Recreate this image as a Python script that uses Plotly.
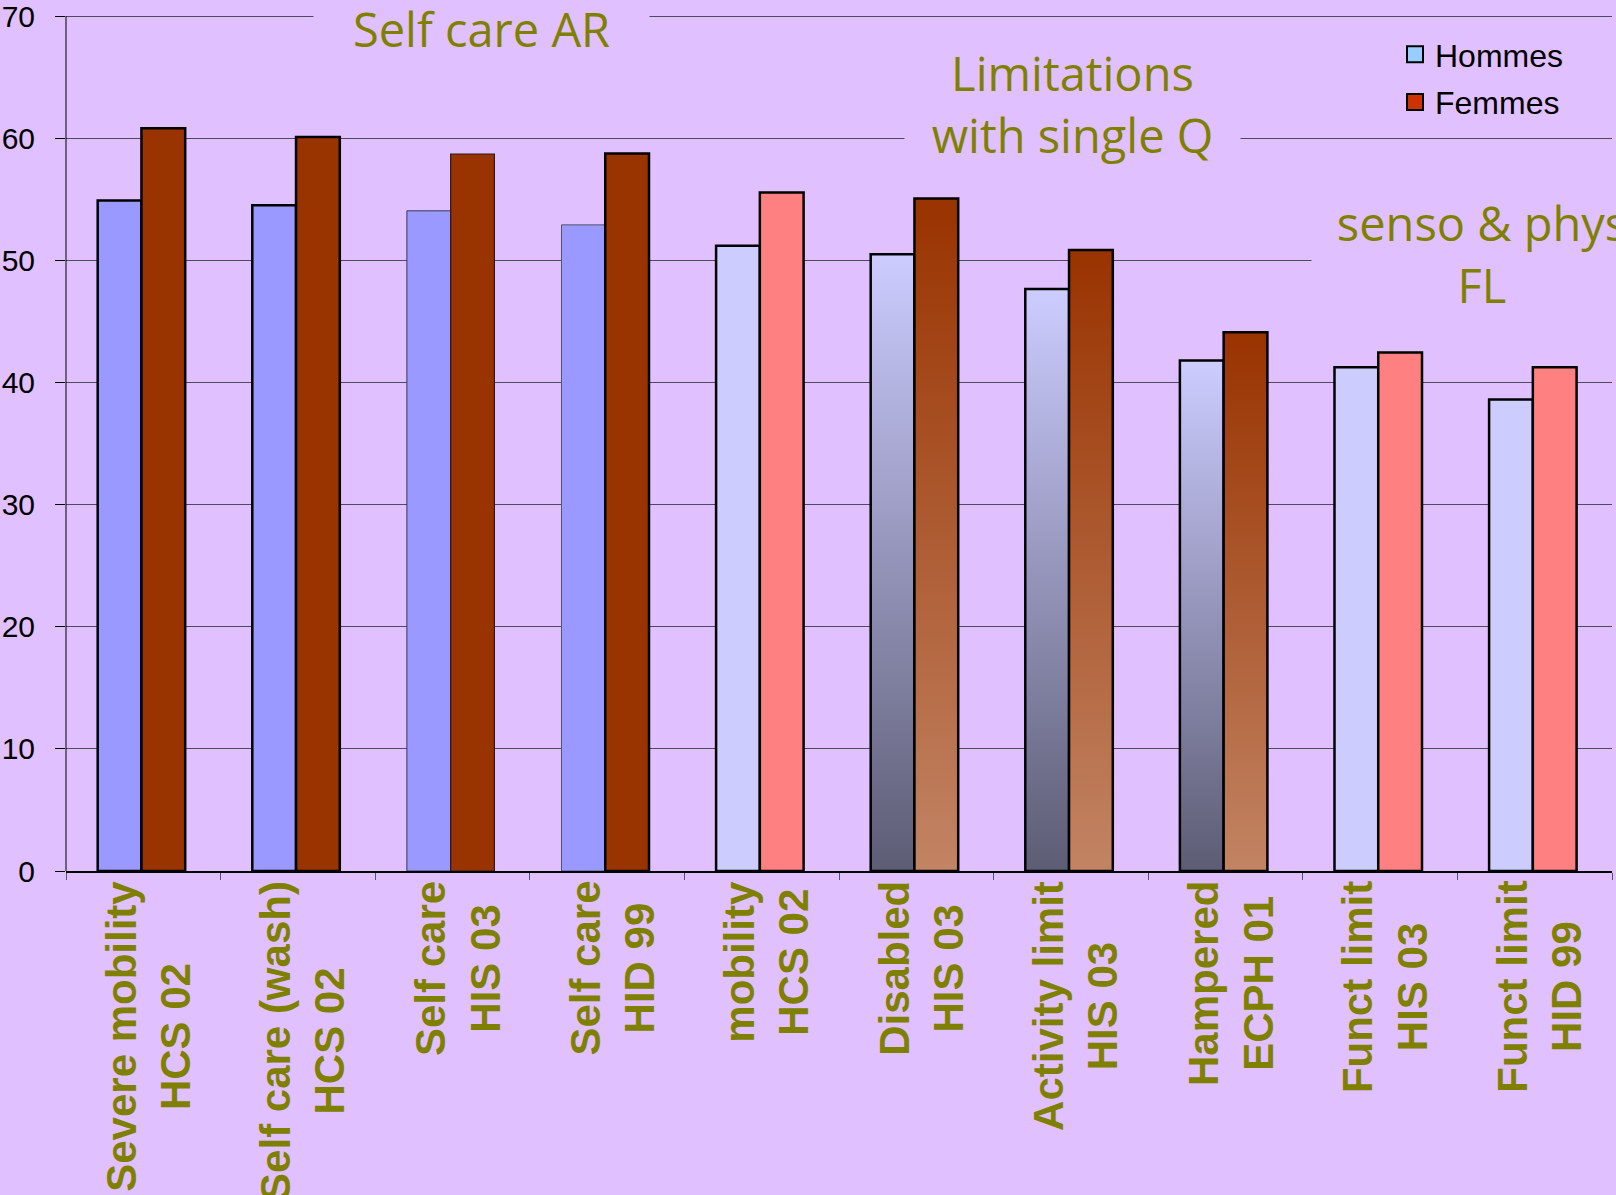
import plotly.graph_objects as go

# ---- data -------------------------------------------------------------
label_line1 = ["Severe mobility", "Self care (wash)", "Self care", "Self care", "mobility",
               "Disabled", "Activity limit", "Hampered", "Funct limit", "Funct limit"]
label_line2 = ["HCS 02", "HCS 02", "HIS 03", "HID 99", "HCS 02",
               "HIS 03", "HIS 03", "ECPH 01", "HIS 03", "HID 99"]
hommes = [54.9, 54.5, 54.05, 52.9, 51.2, 50.5, 47.65, 41.8, 41.25, 38.6]
femmes = [60.8, 60.1, 58.7, 58.75, 55.55, 55.05, 50.85, 44.1, 42.45, 41.25]
y_ticks = [0, 10, 20, 30, 40, 50, 60, 70]
group_titles = ["Self care AR", "Limitations<br>with single Q", "senso & phys<br>FL"]
series_names = ["Hommes", "Femmes"]

# ---- styling ----------------------------------------------------------
BG = "#e0c0ff"
OLIVE = "#808000"
fill_kind = ["dark", "dark", "dark", "dark", "pastel", "grad", "grad", "grad", "pastel", "pastel"]
colors_h = {"dark": "#9999ff", "pastel": "#ccccff"}
colors_f = {"dark": "#993300", "pastel": "#ff8080"}
grad_h = [[0, "#5c5c74"], [1, "#ccccff"]]
grad_f = [[0, "#c28464"], [1, "#993300"]]
edge_w_h = [2.5, 2.5, 1.0, 1.0, 2.5, 2.5, 2.5, 2.5, 2.5, 2.5]
edge_c_h = ["black", "black", "#3a3a50", "#55556a", "black", "black", "black", "black", "black", "black"]
edge_w_f = [2.5, 2.5, 1.2, 2.5, 2.5, 2.5, 2.5, 2.5, 2.5, 2.5]
edge_c_f = ["black", "black", "#2a1a1a", "black", "black", "black", "black", "black", "black", "black"]

BAR_W = 0.283
OFF_H = -0.295
OFF_F = OFF_H + BAR_W

W, H = 1616, 1195
PL, PR, PB = 66, 1612, 871
Y70_PX = 16          # pixel row of the 70 gridline
PT = 9               # plot area top (a little headroom above 70)
Y_MAX = 70
Y_TOP = Y_MAX * (PB - PT) / (PB - Y70_PX)


def px_x(p):
    return (p - PL) / (PR - PL)


def px_y(p):
    return (PB - p) / (PB - PT)


fig = go.Figure()

solid = [i for i, k in enumerate(fill_kind) if k != "grad"]
for vals, off, cmap, ew, ec in [
    (hommes, OFF_H, colors_h, edge_w_h, edge_c_h),
    (femmes, OFF_F, colors_f, edge_w_f, edge_c_f),
]:
    fig.add_trace(go.Bar(
        x=solid,
        y=[vals[i] for i in solid],
        width=BAR_W,
        offset=off,
        marker=dict(color=[cmap[fill_kind[i]] for i in solid],
                    line=dict(width=[ew[i] for i in solid], color=[ec[i] for i in solid])),
        showlegend=False,
        hoverinfo="skip",
    ))

# bars with a vertical colour gradient
for i, k in enumerate(fill_kind):
    if k != "grad":
        continue
    for vals, off, scale in [(hommes, OFF_H, grad_h), (femmes, OFF_F, grad_f)]:
        x0, x1 = i + off, i + off + BAR_W
        v = vals[i]
        fig.add_trace(go.Scatter(
            x=[x0, x0, x1, x1, x0],
            y=[0, v, v, 0, 0],
            mode="lines",
            fill="toself",
            fillgradient=dict(type="vertical", colorscale=scale, start=0, stop=v),
            line=dict(color="black", width=2.5),
            showlegend=False,
            hoverinfo="skip",
        ))

# legend entries
for name, col in zip(series_names, ["#99ccff", "#cc3300"]):
    fig.add_trace(go.Scatter(
        x=[None], y=[None], mode="markers", name=name, legendgroup=name,
        marker=dict(symbol="square", size=16, color=col, line=dict(color="black", width=2)),
    ))

annotations = []
# category labels, rotated, two centred lines
for i, (a, b) in enumerate(zip(label_line1, label_line2)):
    annotations.append(dict(
        x=i, xref="x", xshift=5,
        y=0, yref="paper", yshift=-8,
        xanchor="center", yanchor="top",
        text=f"{a}<br>{b}", textangle=-90, align="center",
        showarrow=False,
        font=dict(family="Liberation Sans", size=42, color=OLIVE, weight="bold"),
    ))

# group headings on background-coloured boxes
title_boxes = [
    (482, 29, 333, 70),
    (1072, 104, 333, 140),
    (1482, 254, 338, 130),
]
for txt, (cx, cy, bw, bh) in zip(group_titles, title_boxes):
    annotations.append(dict(
        x=px_x(cx), xref="paper", y=px_y(cy), yref="paper",
        xanchor="center", yanchor="middle",
        width=bw, height=bh, bgcolor=BG,
        text=txt, align="center", showarrow=False,
        font=dict(family="Open Sans", size=47, color=OLIVE),
    ))

# vertical axis line running from 0 up to the top tick only
shapes = [dict(type="line", xref="paper", x0=0, x1=0, yref="y", y0=0, y1=Y_MAX,
               line=dict(color="black", width=1), layer="above")]

fig.update_layout(
    width=W, height=H, autosize=False,
    margin=dict(l=PL, r=W - PR, t=PT, b=H - PB, pad=0, autoexpand=False),
    paper_bgcolor=BG, plot_bgcolor=BG,
    barmode="overlay",
    annotations=annotations,
    shapes=shapes,
    showlegend=True,
    legend=dict(
        x=px_x(1395), y=px_y(27), xanchor="left", yanchor="top",
        bgcolor="rgba(0,0,0,0)", tracegroupgap=3,
        font=dict(family="Liberation Sans", size=32, color="black"),
    ),
    xaxis=dict(
        range=[-0.5, 9.5],
        tickvals=[i - 0.5 for i in range(11)],
        ticktext=[""] * 11,
        ticks="outside", ticklen=7, tickcolor="#555566", tickwidth=1.2,
        showgrid=False, zeroline=False, automargin=False,
        showline=True, linecolor="black", linewidth=1.5,
    ),
    yaxis=dict(
        range=[0, Y_TOP],
        tickvals=y_ticks,
        ticktext=[str(v) for v in y_ticks],
        ticks="outside", ticklen=10, tickcolor="black", tickwidth=1,
        ticklabelstandoff=14, ticklabeloverflow="allow", automargin=False,
        showgrid=True, gridcolor="#4e4a62", gridwidth=1.3,
        zeroline=False,
        showline=False,
        tickfont=dict(family="Liberation Sans", size=30, color="black"),
    ),
)

fig.write_html("out.html")
